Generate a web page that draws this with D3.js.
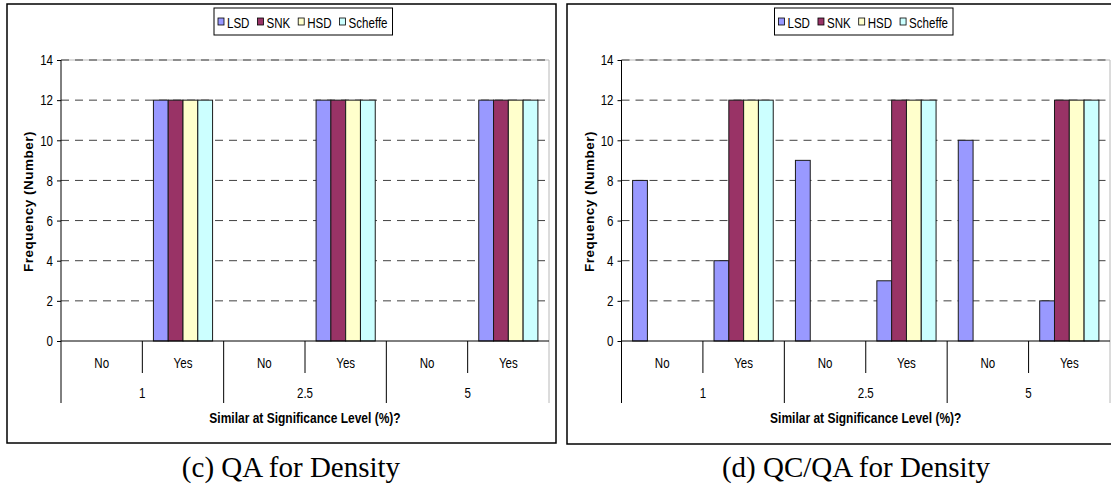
<!DOCTYPE html>
<html>
<head>
<meta charset="utf-8">
<script src="https://cdn.jsdelivr.net/npm/d3@7"></script>
<style>
body { margin: 0; background: #fff; }
</style>
</head>
<body>
<div id="vis"></div>
<script>
// Series, categories, ticks
const seriesNames = ["LSD", "SNK", "HSD", "Scheffe"]
const levels = ["1", "2.5", "5"]
const answers = ["No", "Yes"]
const yTickValues = [0, 2, 4, 6, 8, 10, 12, 14]

// values per category: 1/No, 1/Yes, 2.5/No, 2.5/Yes, 5/No, 5/Yes
// (c) QA for Density
const qaLSD = [0, 12, 0, 12, 0, 12]
const qaSNK = [0, 12, 0, 12, 0, 12]
const qaHSD = [0, 12, 0, 12, 0, 12]
const qaScheffe = [0, 12, 0, 12, 0, 12]

// (d) QC/QA for Density
const qcqaLSD = [8, 4, 9, 3, 10, 2]
const qcqaSNK = [0, 12, 0, 12, 0, 12]
const qcqaHSD = [0, 12, 0, 12, 0, 12]
const qcqaScheffe = [0, 12, 0, 12, 0, 12]

const captions = ["(c) QA for Density", "(d) QC/QA for Density"]
const xTitle = "Similar at Significance Level (%)?"
const yTitle = "Frequency (Number)"

const colors = ['#9999ff', '#993366', '#ffffcc', '#ccffff']

const W = 1111, H = 486
const sansFont = "'Liberation Sans', Arial, sans-serif"
// no Arial Narrow here, so squeeze Liberation Sans horizontally
const squeeze = 0.77

let svg = d3.select("#vis")
    .append("svg")
    .attr("width", W)
    .attr("height", H)

// category keys like "1|No"
let categories = []
levels.forEach(l => answers.forEach(a => categories.push(l + "|" + a)))

// panel layouts (pixels)
let panels = [
    { box: [7, 4, 556, 443], x0: 61, x1: 549, top: 60, zero: 341, capX: 291 },
    { box: [567, 4, 1118, 444], x0: 621.5, x1: 1110, top: 60, zero: 341, capX: 856 }
]

drawPanel(panels[0], [qaLSD, qaSNK, qaHSD, qaScheffe], captions[0])
drawPanel(panels[1], [qcqaLSD, qcqaSNK, qcqaHSD, qcqaScheffe], captions[1])

// narrow look for axis labels: scale x, keep the anchor in place
function narrowText(sel, size) {
    sel.each(function () {
        let t = d3.select(this)
        let x = +t.attr("x") || 0
        t.attr("x", x / squeeze)
            .attr("transform", `scale(${squeeze},1)`)
            .style("font-family", sansFont)
            .style("font-size", size + "px")
            .attr("fill", "#000")
    })
}

function drawPanel(p, seriesValues, caption) {
    let g = svg.append("g")

    // outer chart frame
    g.append("rect")
        .attr("x", p.box[0])
        .attr("y", p.box[1])
        .attr("width", p.box[2] - p.box[0])
        .attr("height", p.box[3] - p.box[1])
        .attr("fill", "#fff")
        .attr("stroke", "#000")
        .attr("stroke-width", 1.5)

    let y = d3.scaleLinear()
        .domain([0, 14])
        .range([p.zero, p.top])

    let x = d3.scaleBand()
        .domain(categories)
        .range([p.x0, p.x1])

    let xLevel = d3.scaleBand()
        .domain(levels)
        .range([p.x0, p.x1])

    let xSeries = d3.scaleBand()
        .domain(seriesNames)
        .range([0, x.bandwidth()])
        .paddingInner(0)
        .paddingOuter(0.75)

    let axisBottom1 = p.zero + 32
    let axisBottom2 = p.zero + 62

    // plot area border (light gray)
    g.append("path")
        .attr("d", `M${p.x0},${p.top}H${p.x1}V${axisBottom2}`)
        .attr("fill", "none")
        .attr("stroke", "#b8b8b8")
        .attr("stroke-width", 1)

    // dashed gridlines
    g.selectAll(".grid")
        .data(yTickValues.filter(d => d > 0))
        .join("line")
        .attr("class", "grid")
        .attr("x1", p.x0)
        .attr("x2", p.x1)
        .attr("y1", d => y(d))
        .attr("y2", d => y(d))
        .attr("stroke", "#404040")
        .attr("stroke-width", 1)
        .attr("stroke-dasharray", "8,6")

    // bars
    let barData = []
    seriesValues.forEach((vals, si) => {
        vals.forEach((v, ci) => {
            barData.push({ series: seriesNames[si], cat: categories[ci], value: v, color: colors[si] })
        })
    })

    g.selectAll(".bar")
        .data(barData.filter(d => d.value > 0))
        .join("rect")
        .attr("class", "bar")
        .attr("x", d => x(d.cat) + xSeries(d.series))
        .attr("width", xSeries.bandwidth())
        .attr("y", d => y(d.value))
        .attr("height", d => y(0) - y(d.value))
        .attr("fill", d => d.color)
        .attr("stroke", "#1a1a1a")
        .attr("stroke-width", 1)

    // y axis
    let yAxis = g.append("g")
        .attr("transform", `translate(${p.x0},0)`)
        .call(d3.axisLeft(y).tickValues(yTickValues).tickSize(4).tickSizeOuter(0).tickPadding(4))

    yAxis.select(".domain").remove()
    yAxis.selectAll("line").attr("stroke", "#000")
    narrowText(yAxis.selectAll("text"), 15)

    g.append("line")
        .attr("x1", p.x0).attr("x2", p.x0)
        .attr("y1", p.top).attr("y2", axisBottom2)
        .attr("stroke", "#000")

    // x axis line
    g.append("line")
        .attr("x1", p.x0).attr("x2", p.x1)
        .attr("y1", p.zero).attr("y2", p.zero)
        .attr("stroke", "#000")

    // category boundaries (short between No/Yes, long between levels)
    g.selectAll(".catTick")
        .data(categories.slice(1))
        .join("line")
        .attr("class", "catTick")
        .attr("x1", d => x(d))
        .attr("x2", d => x(d))
        .attr("y1", p.zero)
        .attr("y2", d => d.endsWith("|No") ? axisBottom2 : axisBottom1)
        .attr("stroke", "#000")

    // answer labels
    let xAxis1 = g.append("g")
        .attr("transform", `translate(0,${p.zero})`)
        .call(d3.axisBottom(x).tickSize(0).tickPadding(16).tickFormat(d => d.split("|")[1]))
    xAxis1.select(".domain").remove()
    narrowText(xAxis1.selectAll("text"), 15)

    // level labels
    let xAxis2 = g.append("g")
        .attr("transform", `translate(0,${p.zero})`)
        .call(d3.axisBottom(xLevel).tickSize(0).tickPadding(46))
    xAxis2.select(".domain").remove()
    narrowText(xAxis2.selectAll("text"), 15)

    // axis titles
    g.append("text")
        .attr("transform", `translate(${(p.x0 + p.x1) / 2},${p.zero + 82}) scale(0.8,1)`)
        .attr("text-anchor", "middle")
        .style("font-family", sansFont)
        .style("font-size", "15px")
        .style("font-weight", "bold")
        .text(xTitle)

    g.append("text")
        .attr("transform", `translate(${p.x0 - 28},${(p.top + p.zero) / 2 + 1}) rotate(-90)`)
        .attr("text-anchor", "middle")
        .style("font-family", sansFont)
        .style("font-size", "13.5px")
        .style("font-weight", "bold")
        .style("letter-spacing", "0.5px")
        .text(yTitle)

    // legend
    let lx = p.x0 + 153, ly = 8, lh = 27
    let legend = g.append("g")
    let legendBox = legend.append("rect")
        .attr("x", lx).attr("y", ly)
        .attr("height", lh)
        .attr("fill", "#fff")
        .attr("stroke", "#000")
        .attr("stroke-width", 1)

    let cx = lx + 4
    seriesNames.forEach((name, i) => {
        legend.append("rect")
            .attr("x", cx).attr("y", ly + 10)
            .attr("width", 6).attr("height", 7)
            .attr("fill", colors[i])
            .attr("stroke", "#000")
            .attr("stroke-width", 0.8)
        let t = legend.append("text")
            .attr("transform", `translate(${cx + 9},${ly + 19.5}) scale(${squeeze},1)`)
            .style("font-family", sansFont)
            .style("font-size", "15px")
            .text(name)
        cx += 9 + t.node().getComputedTextLength() * squeeze + 8
    })
    legendBox.attr("width", cx - lx - 3)

    // caption under the chart
    svg.append("text")
        .attr("x", p.capX)
        .attr("y", 477)
        .attr("text-anchor", "middle")
        .style("font-family", "'Liberation Serif', 'Times New Roman', serif")
        .style("font-size", "29px")
        .text(caption)
}
</script>
</body>
</html>
